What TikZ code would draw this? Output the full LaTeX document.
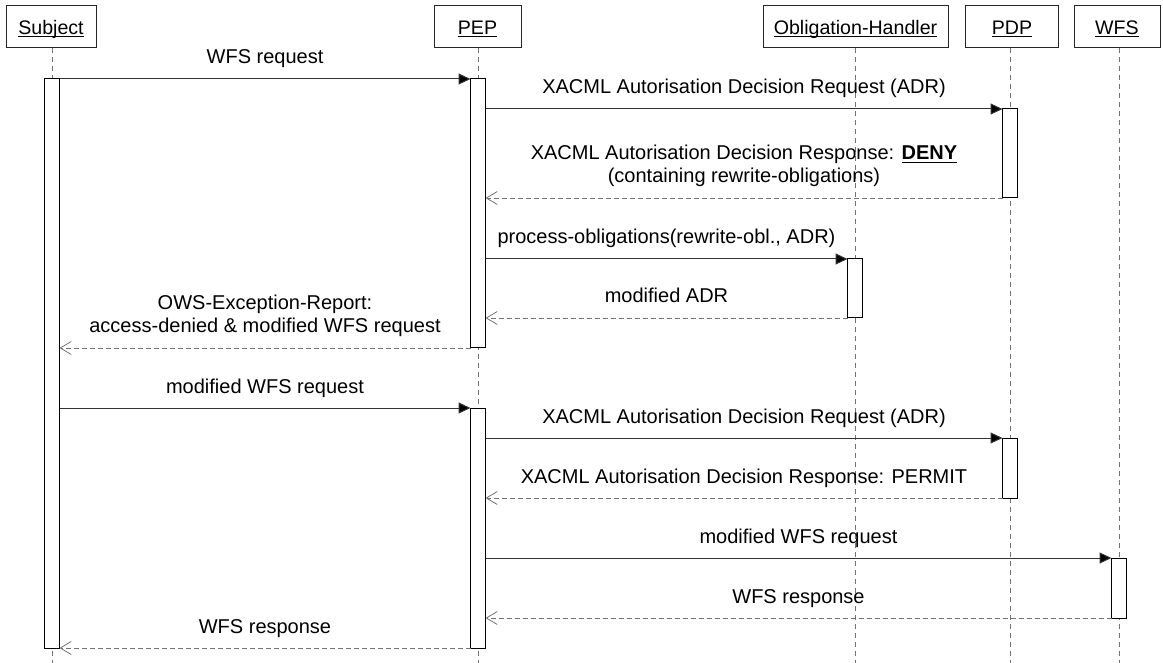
\documentclass[tikz,border=0pt]{standalone}
\usepackage{fontspec}
\setmainfont{Liberation Sans}
\usetikzlibrary{arrows.meta,calc}
\newcommand\myul[1]{\setbox0\hbox{#1}\rlap{\rule[-3pt]{\wd0}{1.2pt}}\box0}
\begin{document}
\begin{tikzpicture}[x=1pt,y=-1pt,
  font=\fontsize{20pt}{23pt}\selectfont,
  actor/.style={draw=black!85,line width=1pt,minimum height=42pt,inner sep=0pt,outer sep=0pt,text height=14.5pt,text depth=0pt,font=\fontsize{19.6pt}{23pt}\selectfont},
  life/.style={draw=black!55,line width=0.9pt,dash pattern=on 5pt off 4pt},
  bar/.style={draw=black,fill=white,line width=1pt,minimum width=15pt,inner sep=0pt,outer sep=0pt},
  msg/.style={draw=black!80,line width=1pt,-{Triangle[length=12pt,width=11pt,fill=black]}},
  ret/.style={draw=black!55,line width=0.9pt,dash pattern=on 5pt off 3pt,-{Straight Barb[length=11pt,width=13pt,line width=0.8pt]}},
  lbl/.style={anchor=base,yshift=15pt,inner sep=0pt},
  lbltwo/.style={anchor=south,yshift=10.5pt,inner sep=0pt,align=center}
]
\useasboundingbox (0,0) rectangle (1163,663);
% actors
\node[actor,minimum width=90pt] (subj) at (51,27) {\myul{Subject}};
\node[actor,minimum width=87pt] (pep) at (477.5,27) {\myul{PEP}};
\node[actor,minimum width=185pt] (oh) at (855.5,27) {\myul{Obligation-Handler}};
\node[actor,minimum width=93pt] (pdp) at (1012,27) {\myul{PDP}};
\node[actor,minimum width=86pt] (wfs) at (1117,27) {\myul{WFS}};
% lifelines
\coordinate (subjend) at (52,663);
\coordinate (pepend) at (478,663);
\coordinate (ohend) at (855,663);
\coordinate (pdpend) at (1010,663);
\coordinate (wfsend) at (1119,663);
\draw[life] (subj.south -| subjend) -- (subjend);
\draw[life] (pep.south -| pepend) -- (pepend);
\draw[life] (oh.south -| ohend) -- (ohend);
\draw[life] (pdp.south -| pdpend) -- (pdpend);
\draw[life] (wfs.south -| wfsend) -- (wfsend);
% activation bars
\node[bar,minimum height=569pt] (sb) at (52,363.5) {};
\node[bar,minimum height=269pt] (pb1) at (478,213.5) {};
\node[bar,minimum height=89pt] (pdpb1) at (1010,153.5) {};
\node[bar,minimum height=59pt] (ohb) at (855,288.5) {};
\node[bar,minimum height=240pt] (pb2) at (478,528) {};
\node[bar,minimum height=60pt] (pdpb2) at (1010,468) {};
\node[bar,minimum height=60pt] (wb) at (1119,588) {};
% messages
\draw[msg] (sb.north east) -- node[lbl] (m1) {WFS request} (pb1.north west);
\draw[msg] (pb1.east |- pdpb1.north) -- node[lbl] (m2) {XACML Autorisation Decision Request (ADR)} (pdpb1.north west);
\draw[ret] (pdpb1.south west) -- node[lbltwo] (m3) {XACML Autorisation Decision Response: \textbf{\myul{DENY}}\\(containing rewrite-obligations)} (pb1.east |- pdpb1.south);
\draw[msg] (pb1.east |- ohb.north) -- node[lbl] (m4) {process-obligations(rewrite-obl., ADR)} (ohb.north west);
\draw[ret] (ohb.south west) -- node[lbl] (m5) {modified ADR} (pb1.east |- ohb.south);
\draw[ret] (pb1.south west) -- node[lbltwo] (m6) {OWS-Exception-Report:\\access-denied \& modified WFS request} (sb.east |- pb1.south);
\draw[msg] (sb.east |- pb2.north) -- node[lbl] (m7) {modified WFS request} (pb2.north west);
\draw[msg] (pb2.east |- pdpb2.north) -- node[lbl] (m8) {XACML Autorisation Decision Request (ADR)} (pdpb2.north west);
\draw[ret] (pdpb2.south west) -- node[lbl] (m9) {XACML Autorisation Decision Response: PERMIT} (pb2.east |- pdpb2.south);
\draw[msg] (pb2.east |- wb.north) -- node[lbl] (m10) {modified WFS request} (wb.north west);
\draw[ret] (wb.south west) -- node[lbl] (m11) {WFS response} (pb2.east |- wb.south);
\draw[ret] (pb2.south west) -- node[lbl] (m12) {WFS response} (sb.east |- pb2.south);
\end{tikzpicture}
\end{document}
